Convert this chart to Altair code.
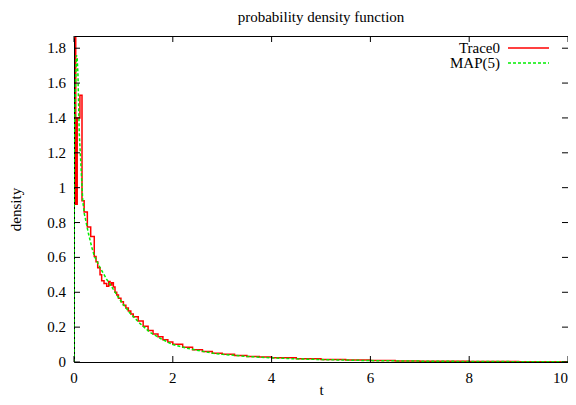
import altair as alt
import pandas as pd

# ---- data ----
trace_t = [0.0, 0.035, 0.065, 0.12, 0.162, 0.205, 0.27, 0.338, 0.41, 0.446,
           0.48, 0.527, 0.56, 0.608, 0.662, 0.703, 0.73, 0.764, 0.797, 0.83,
           0.865, 0.9, 0.95, 1.0, 1.05, 1.1, 1.15, 1.2, 1.3, 1.4,
           1.5, 1.6, 1.7, 1.8, 1.9, 2.0, 2.2, 2.4, 2.6, 2.8,
           3.0, 3.25, 3.5, 3.75, 4.0, 4.5, 5.0, 5.5, 6.0, 6.5,
           7.0, 7.5, 8.0, 8.5, 9.0, 9.5, 10.0]
trace_v = [1.86, 0.905, 1.40, 1.53, 0.925, 0.86, 0.775, 0.72, 0.605, 0.575,
           0.54, 0.50, 0.466, 0.451, 0.435, 0.462, 0.442, 0.455, 0.43, 0.40,
           0.385, 0.365, 0.345, 0.325, 0.31, 0.292, 0.275, 0.26, 0.235, 0.205,
           0.18, 0.16, 0.145, 0.128, 0.115, 0.102, 0.085, 0.07, 0.06, 0.05,
           0.044, 0.038, 0.032, 0.028, 0.024, 0.019, 0.014, 0.011, 0.008, 0.006,
           0.005, 0.004, 0.003, 0.0025, 0.002, 0.0015, 0.0015]

map_t = [0.0, 0.004, 0.03, 0.05, 0.065, 0.08, 0.107, 0.142, 0.176, 0.209,
         0.225, 0.29, 0.358, 0.412, 0.53, 0.66, 0.8, 0.9, 1.0, 1.135,
         1.34, 1.54, 1.75, 2.0, 2.35, 2.82, 3.0, 3.5, 4.0, 4.5,
         5.0, 6.0, 7.0, 8.0, 9.0, 10.0]
map_v = [0.0, 1.2, 1.6, 1.76, 1.74, 1.65, 1.31, 1.12, 0.93, 0.85,
         0.83, 0.74, 0.66, 0.607, 0.54, 0.475, 0.415, 0.37, 0.33, 0.28,
         0.22, 0.17, 0.135, 0.10, 0.075, 0.05, 0.044, 0.032, 0.024, 0.018,
         0.014, 0.008, 0.005, 0.003, 0.002, 0.0012]

x_ticks = [0, 2, 4, 6, 8, 10]
y_ticks = [0, 0.2, 0.4, 0.6, 0.8, 1.0, 1.2, 1.4, 1.6, 1.8]
legend_labels = ["Trace0", "MAP(5)"]
series_colors = ["#ff0000", "#00ee00"]

W, H = 494, 326
FONT = "Liberation Serif"
FS = 15

xs = alt.Scale(domain=[0, 10], nice=False, zero=False)
ys = alt.Scale(domain=[0, 1.87], nice=False, zero=False)

trace_df = pd.DataFrame({"t": trace_t, "density": trace_v})
map_df = pd.DataFrame({"t": map_t, "density": map_v, "i": list(range(len(map_t)))})

red = alt.Chart(trace_df).mark_line(
    interpolate="step-after", color=series_colors[0], strokeWidth=1.5, clip=True
).encode(
    x=alt.X("t:Q", scale=xs, axis=alt.Axis(values=x_ticks, title="t", labels=False,
                                            titleY=32, titleBaseline="alphabetic")),
    y=alt.Y("density:Q", scale=ys, axis=alt.Axis(values=y_ticks, title="density",
                                                  labels=False, titleX=-59,
                                                  titleY=H / 2 + 10,
                                                  titleBaseline="middle")),
)

green = alt.Chart(map_df).mark_line(
    color=series_colors[1], strokeWidth=1.5, strokeDash=[3, 2], clip=True
).encode(
    x=alt.X("t:Q", scale=xs),
    y=alt.Y("density:Q", scale=ys),
    order=alt.Order("i:Q"),
)

xt = pd.DataFrame({"t": x_ticks})
yt = pd.DataFrame({"density": y_ticks})
tick_bottom = alt.Chart(xt).mark_rule(color="black").encode(
    x=alt.X("t:Q", scale=xs), y=alt.value(H), y2=alt.value(H - 6))
tick_top = alt.Chart(xt).mark_rule(color="black").encode(
    x=alt.X("t:Q", scale=xs), y=alt.value(0), y2=alt.value(6))
tick_left = alt.Chart(yt).mark_rule(color="black").encode(
    y=alt.Y("density:Q", scale=ys), x=alt.value(0), x2=alt.value(6))
tick_right = alt.Chart(yt).mark_rule(color="black").encode(
    y=alt.Y("density:Q", scale=ys), x=alt.value(W - 6), x2=alt.value(W))

# tick labels as text marks
xlab = alt.Chart(xt.iloc[:-1]).mark_text(
    align="center", baseline="middle", font=FONT, fontSize=FS, color="black"
).encode(x=alt.X("t:Q", scale=xs), y=alt.value(H + 16), text=alt.Text("t:Q", format="d"))
xlab_last = alt.Chart(xt.iloc[-1:]).mark_text(
    align="right", baseline="middle", font=FONT, fontSize=FS, color="black"
).encode(x=alt.X("t:Q", scale=xs), y=alt.value(H + 16), text=alt.Text("t:Q", format="d"))
ylab = alt.Chart(yt).mark_text(
    align="right", baseline="middle", font=FONT, fontSize=FS, color="black"
).encode(y=alt.Y("density:Q", scale=ys), x=alt.value(-8),
         text=alt.Text("density:Q", format=".1~f"))

leg_df = pd.DataFrame({"label": legend_labels})
leg_text1 = alt.Chart(leg_df.iloc[[0]]).mark_text(
    align="right", baseline="middle", font=FONT, fontSize=FS, color="black"
).encode(x=alt.value(426), y=alt.value(12), text="label:N")
leg_text2 = alt.Chart(leg_df.iloc[[1]]).mark_text(
    align="right", baseline="middle", font=FONT, fontSize=FS, color="black"
).encode(x=alt.value(426), y=alt.value(27), text="label:N")
leg_line1 = alt.Chart(leg_df.iloc[[0]]).mark_rule(
    color=series_colors[0], strokeWidth=1.5
).encode(x=alt.value(434), x2=alt.value(475), y=alt.value(12))
leg_line2 = alt.Chart(leg_df.iloc[[1]]).mark_rule(
    color=series_colors[1], strokeWidth=1.5, strokeDash=[3, 2]
).encode(x=alt.value(434), x2=alt.value(475), y=alt.value(27))

chart = alt.layer(
    red, green, tick_bottom, tick_top, tick_left, tick_right,
    xlab, xlab_last, ylab,
    leg_text1, leg_text2, leg_line1, leg_line2
).properties(
    width=W, height=H,
    title=alt.TitleParams("probability density function", font=FONT, fontSize=FS,
                          fontWeight="normal", anchor="middle", frame="group", offset=11),
    autosize=alt.AutoSizeParams(type="none"),
    padding={"left": 66, "top": 28, "right": 0, "bottom": 35},
).configure_view(
    stroke="black", strokeWidth=1
).configure_axis(
    ticks=False, domain=False, grid=False,
    titleFont=FONT, titleFontSize=FS, titleFontWeight="normal", titleColor="black",
)

chart.save("out.html", embed_options={"renderer": "svg", "actions": False})
